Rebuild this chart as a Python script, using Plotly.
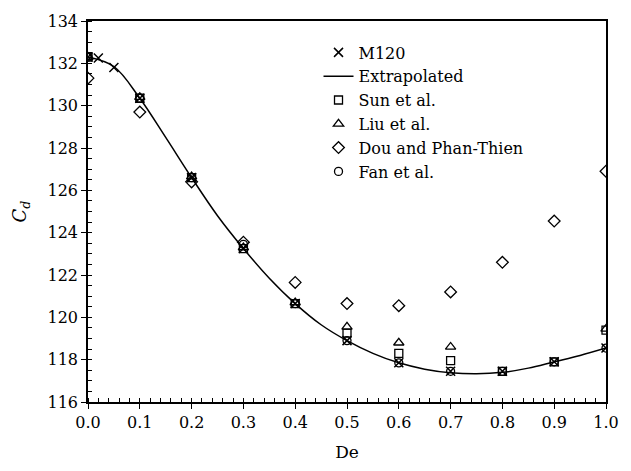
import plotly.graph_objects as go

# ---- data ----
de_m120 = [0.0, 0.02, 0.05, 0.1, 0.2, 0.3, 0.4, 0.5, 0.6, 0.7, 0.8, 0.9, 1.0]
cd_m120 = [132.3, 132.25, 131.8, 130.35, 126.6, 123.25, 120.65, 118.9, 117.85, 117.45, 117.45, 117.9, 118.55]

de_extra = [0.0, 0.05, 0.1, 0.15, 0.2, 0.25, 0.3, 0.35, 0.4, 0.45, 0.5,
            0.55, 0.6, 0.65, 0.7, 0.75, 0.8, 0.85, 0.9, 0.95, 1.0]
cd_extra = [132.3, 131.85, 130.35, 128.5, 126.6, 124.8, 123.25, 121.85, 120.65, 119.65, 118.9,
            118.3, 117.85, 117.55, 117.38, 117.33, 117.4, 117.6, 117.9, 118.2, 118.55]

de_sun = [0.0, 0.1, 0.2, 0.3, 0.4, 0.5, 0.6, 0.7, 0.8, 0.9, 1.0]
cd_sun = [132.3, 130.35, 126.6, 123.25, 120.65, 119.25, 118.3, 117.95, 117.45, 117.9, 119.4]

de_liu = [0.0, 0.1, 0.2, 0.3, 0.4, 0.5, 0.6, 0.7, 1.0]
cd_liu = [132.3, 130.4, 126.65, 123.3, 120.7, 119.55, 118.8, 118.6, 119.45]

de_dou = [0.0, 0.1, 0.2, 0.3, 0.4, 0.5, 0.6, 0.7, 0.8, 0.9, 1.0]
cd_dou = [131.3, 129.7, 126.4, 123.55, 121.65, 120.65, 120.55, 121.2, 122.6, 124.55, 126.9]

de_fan = [0.0, 0.1, 0.2, 0.3, 0.4, 0.5, 0.6, 0.7, 0.8, 0.9, 1.0]
cd_fan = [132.3, 130.35, 126.6, 123.45, 120.65, 118.9, 117.85, 117.45, 117.45, 117.9, 118.55]

x_ticks = [0.0, 0.1, 0.2, 0.3, 0.4, 0.5, 0.6, 0.7, 0.8, 0.9, 1.0]
y_ticks = [116, 118, 120, 122, 124, 126, 128, 130, 132, 134]

FONT = "DejaVu Serif"
BLACK = "black"

fig = go.Figure()

def mk(symbol, size):
    return dict(symbol=symbol, size=size, color=BLACK,
                line=dict(color=BLACK, width=1.3))

fig.add_trace(go.Scatter(x=de_m120, y=cd_m120, mode="markers", name="M120",
                         legendgroup="a",
                         marker=dict(symbol="x-thin", size=9, color=BLACK,
                                     line=dict(color=BLACK, width=1.5))))
fig.add_trace(go.Scatter(x=de_extra, y=cd_extra, mode="lines", name="Extrapolated",
                         legendgroup="b",
                         line=dict(color=BLACK, width=1.5, shape="spline")))
fig.add_trace(go.Scatter(x=de_sun, y=cd_sun, mode="markers", name="Sun et al.",
                         legendgroup="c", marker=mk("square-open", 8)))
fig.add_trace(go.Scatter(x=de_liu, y=cd_liu, mode="markers", name="Liu et al.",
                         legendgroup="d", marker=mk("triangle-up-open", 9)))
fig.add_trace(go.Scatter(x=de_dou, y=cd_dou, mode="markers", name="Dou and Phan-Thien",
                         legendgroup="e", marker=mk("diamond-open", 9)))
fig.add_trace(go.Scatter(x=de_fan, y=cd_fan, mode="markers", name="Fan et al.",
                         legendgroup="f", marker=mk("circle-open", 8)))

fig.update_layout(
    width=631, height=471,
    margin=dict(l=88, r=14, t=18, b=66),
    plot_bgcolor="white", paper_bgcolor="white",
    font=dict(family=FONT, size=16, color=BLACK),
    showlegend=True,
    legend=dict(x=0.445, y=0.962, xanchor="left", yanchor="top",
                bgcolor="rgba(0,0,0,0)", font=dict(family=FONT, size=16),
                traceorder="grouped", tracegroupgap=0, itemwidth=30),
)

fig.update_xaxes(
    range=[0, 1.0], tickvals=x_ticks, tickformat=".1f",
    showgrid=False, zeroline=False,
    showline=True, linecolor=BLACK, linewidth=1.5, mirror=True,
    ticks="outside", ticklen=5, tickwidth=1.2, tickcolor=BLACK,
    minor=dict(dtick=0.02, ticks="inside", ticklen=4, tickwidth=1, tickcolor=BLACK, showgrid=False),
    title=dict(text="De", font=dict(family=FONT, size=17), standoff=15),
)
fig.update_yaxes(
    range=[116, 134], tickvals=y_ticks,
    showgrid=False, zeroline=False,
    showline=True, linecolor=BLACK, linewidth=1.5, mirror=True,
    ticks="outside", ticklen=5, tickwidth=1.2, tickcolor=BLACK,
    minor=dict(dtick=0.5, ticks="inside", ticklen=4, tickwidth=1, tickcolor=BLACK, showgrid=False),
    title=dict(text="<i>C<sub>d</sub></i>", font=dict(family=FONT, size=18), standoff=16),
)

fig.write_html("out.html")
